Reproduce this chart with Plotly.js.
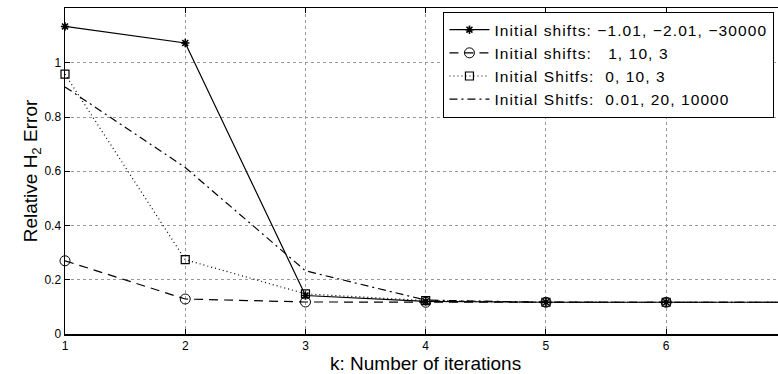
<!DOCTYPE html>
<html>
<head>
<meta charset="utf-8">
<script src="https://cdn.plot.ly/plotly-3.0.1.min.js"></script>
<style>
html,body{margin:0;padding:0;background:#fff;}
#chart{width:778px;height:374px;}
.legendtext{letter-spacing:1.1px;}
</style>
</head>
<body>
<div id="chart"></div>
<script>
const iterations = [1, 2, 3, 4, 5, 6, 7];
const shiftsNeg = [1.134, 1.073, 0.142, 0.120, 0.117, 0.117, 0.117];
const shifts1_10_3 = [0.270, 0.129, 0.118, 0.117, 0.117, 0.117, 0.117];
const shifts0_10_3 = [0.958, 0.274, 0.148, 0.123, 0.117, 0.117, 0.117];
const shifts001_20_10000 = [0.911, 0.614, 0.233, 0.125, 0.117, 0.117, 0.117];
const seriesNames = [
  "Initial shifts: \u22121.01, \u22122.01, \u221230000",
  "Initial shifts: \u00a0 1, 10, 3",
  "Initial Shitfs: \u00a00, 10, 3",
  "Initial Shitfs: \u00a00.01, 20, 10000"
];
const xTickVals = [1, 2, 3, 4, 5, 6, 7];
const yTickVals = [0, 0.2, 0.4, 0.6, 0.8, 1];

const font = "Liberation Sans, Arial, Helvetica, sans-serif";
const traces = [
  {x: iterations, y: shiftsNeg, name: seriesNames[0], mode: "lines+markers", cliponaxis: false,
   line: {color: "black", width: 1.2},
   marker: {symbol: "asterisk-open", size: 7, color: "black", line: {color: "black", width: 1.6}}},
  {x: iterations, y: shifts1_10_3, name: seriesNames[1], mode: "lines+markers", cliponaxis: false,
   line: {color: "black", width: 1.2, dash: "9px,6px"},
   marker: {symbol: "circle-open", size: 10, color: "black", line: {color: "black", width: 1}}},
  {x: iterations, y: shifts0_10_3, name: seriesNames[2], mode: "lines+markers", cliponaxis: false,
   line: {color: "black", width: 1.2, dash: "1px,3px"},
   marker: {symbol: "square-open", size: 8, color: "black", line: {color: "black", width: 1.2}}},
  {x: iterations, y: shifts001_20_10000, name: seriesNames[3], mode: "lines",
   line: {color: "black", width: 1.2, dash: "8px,4px,2px,4px"}}
];

const layout = {
  width: 778, height: 374,
  margin: {l: 64.5, r: 0, t: 7.5, b: 39.5},
  paper_bgcolor: "white", plot_bgcolor: "white",
  font: {family: font, color: "black", size: 11},
  showlegend: true,
  legend: {x: 0.5305, y: 0.988, xanchor: "left", yanchor: "top",
    bgcolor: "white", bordercolor: "black", borderwidth: 1.2,
    font: {family: font, size: 15.5, color: "black"}, tracegroupgap: 0, itemwidth: 40},
  xaxis: {range: [1, 6.93], tickvals: xTickVals, ticks: "inside", ticklen: 5,
    tickcolor: "black", showline: true, linecolor: "black", linewidth: 1.5, mirror: "ticks",
    showgrid: true, gridcolor: "#999", griddash: "dot", gridwidth: 1, zeroline: false,
    tickfont: {size: 12}, fixedrange: true},
  yaxis: {range: [0, 1.202], tickvals: yTickVals, ticks: "inside", ticklen: 5,
    tickcolor: "black", showline: true, linecolor: "black", linewidth: 1.5, mirror: false,
    showgrid: true, gridcolor: "#999", griddash: "dot", gridwidth: 1, zeroline: false,
    tickfont: {size: 12},
    title: {text: "Relative H<sub>2</sub> Error", font: {size: 19}, standoff: 0}},
  annotations: [{text: "k: Number of iterations", xref: "x", yref: "paper", x: 4, y: 0,
    yshift: -29, showarrow: false, yanchor: "middle", font: {size: 19, family: font}}]
};
Plotly.newPlot("chart", traces, layout, {displayModeBar: false, staticPlot: true});
</script>
</body>
</html>
